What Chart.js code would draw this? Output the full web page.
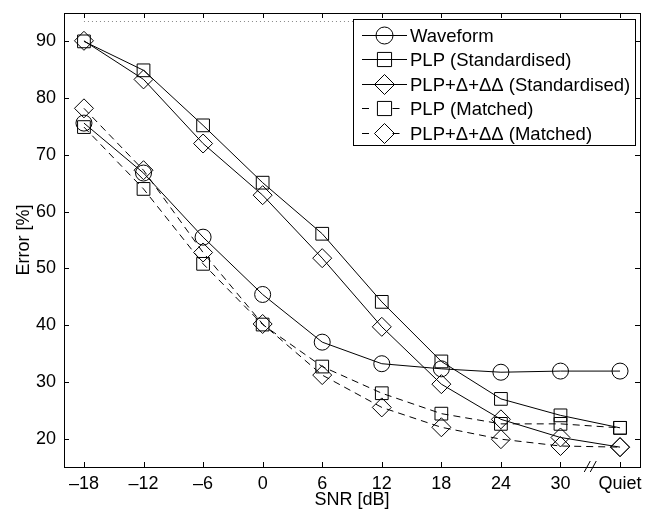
<!DOCTYPE html>
<html>
<head>
<meta charset="utf-8">
<script src="https://cdn.jsdelivr.net/npm/chart.js@4/dist/chart.umd.min.js"></script>
<style>
  html, body { margin: 0; padding: 0; background: #fff; }
</style>
</head>
<body>
<canvas id="errChart" width="658" height="511"></canvas>
<script>
// x positions are evenly spaced slots, "Quiet" sits after a break
const snrLabels = ['\u201318', '\u201312', '\u20136', '0', '6', '12', '18', '24', '30', 'Quiet'];
const snrPos = [0, 1, 2, 3, 4, 5, 6, 7, 8, 9];
const errorTicks = [20, 30, 40, 50, 60, 70, 80, 90];

const waveform = [75.6, 66.8, 55.5, 45.4, 37.0, 33.2, 32.3, 31.7, 31.9, 31.9];
const plpStd = [90.0, 84.9, 75.2, 65.1, 56.1, 44.1, 33.6, 27.0, 24.1, 21.9];
const plpDeltaStd = [90.1, 83.3, 72.0, 62.9, 51.8, 39.7, 29.6, 23.4, 20.2, 18.5];
const plpMatched = [74.9, 64.0, 50.8, 40.1, 32.7, 28.0, 24.4, 22.6, 22.6, 21.9];
const plpDeltaMatched = [78.2, 67.3, 52.8, 40.2, 31.2, 25.5, 22.0, 19.9, 18.7, 18.5];
const chanceLevel = [93.5, 93.5];
const chancePos = [0, 9];

const FONT = 'Liberation Sans, Arial, Helvetica, sans-serif';
const FSIZE = 18;

const toPoints = (vals, xs) => vals.map((v, i) => ({ x: xs[i], y: v }));

const series = [
  { label: 'Waveform', data: waveform, style: 'circle', r: 8, lr: 8.5, dash: [] },
  { label: 'PLP (Standardised)', data: plpStd, style: 'rect', r: 9, lr: 10, dash: [] },
  { label: 'PLP+\u0394+\u0394\u0394 (Standardised)', data: plpDeltaStd, style: 'rectRot', r: 9.5, lr: 10, dash: [] },
  { label: 'PLP (Matched)', data: plpMatched, style: 'rect', r: 9, lr: 10, dash: [7, 5] },
  { label: 'PLP+\u0394+\u0394\u0394 (Matched)', data: plpDeltaMatched, style: 'rectRot', r: 9.5, lr: 10, dash: [7, 5] },
];

const datasets = series.map(s => ({
  label: s.label,
  data: toPoints(s.data, snrPos),
  borderColor: '#000',
  borderWidth: 1,
  borderDash: s.dash,
  pointStyle: s.style,
  pointRadius: s.r,
  pointBorderWidth: 1,
  pointBorderColor: '#000',
  pointBackgroundColor: 'rgba(0,0,0,0)',
  tension: 0,
  fill: false,
}));

datasets.push({
  label: 'chance',
  data: toPoints(chanceLevel, chancePos),
  borderColor: '#888',
  borderWidth: 1,
  borderDash: [1, 3],
  pointRadius: 0,
  fill: false,
});

// simple marker drawing for the legend
function marker(ctx, style, r, x, y) {
  ctx.beginPath();
  if (style === 'circle') {
    ctx.arc(x, y, r, 0, Math.PI * 2);
  } else if (style === 'rect') {
    const h = r * Math.SQRT1_2;
    ctx.rect(x - h, y - h, 2 * h, 2 * h);
  } else {
    ctx.moveTo(x, y - r);
    ctx.lineTo(x + r, y);
    ctx.lineTo(x, y + r);
    ctx.lineTo(x - r, y);
    ctx.closePath();
  }
  ctx.stroke();
}

const boxPlugin = {
  id: 'boxPlugin',
  afterDraw(chart) {
    const { ctx, chartArea: a, scales } = chart;
    const xs = scales.x, ys = scales.y;
    ctx.save();
    ctx.strokeStyle = '#000';
    ctx.lineWidth = 1;
    ctx.setLineDash([]);

    // frame
    ctx.strokeRect(Math.round(a.left) + 0.5, Math.round(a.top) + 0.5,
      Math.round(a.right - a.left), Math.round(a.bottom - a.top));

    // inward ticks on all four sides
    const tl = 5;
    ctx.beginPath();
    snrPos.forEach(v => {
      const px = Math.round(xs.getPixelForValue(v)) + 0.5;
      ctx.moveTo(px, a.bottom); ctx.lineTo(px, a.bottom - tl);
      ctx.moveTo(px, a.top); ctx.lineTo(px, a.top + tl);
    });
    errorTicks.forEach(v => {
      const py = Math.round(ys.getPixelForValue(v)) + 0.5;
      ctx.moveTo(a.left, py); ctx.lineTo(a.left + tl, py);
      ctx.moveTo(a.right, py); ctx.lineTo(a.right - tl, py);
    });
    ctx.stroke();

    // axis break mark between 30 and Quiet
    const bx = xs.getPixelForValue(8.5);
    ctx.beginPath();
    [-3, 3].forEach(d => {
      ctx.moveTo(bx + d - 3, a.bottom + 5);
      ctx.lineTo(bx + d + 3, a.bottom - 6);
    });
    ctx.stroke();

    // legend
    const lw = 282, lh = 126;
    const lx = a.right - 5 - lw, ly = a.top + 6;
    ctx.fillStyle = '#fff';
    ctx.fillRect(lx, ly, lw, lh);
    ctx.strokeRect(Math.round(lx) + 0.5, Math.round(ly) + 0.5, lw, lh);
    ctx.font = '18.5px ' + FONT;
    ctx.textBaseline = 'middle';
    ctx.textAlign = 'left';
    series.forEach((s, i) => {
      const y = Math.round(ly + 16 + i * 24.4) + 0.5;
      const x0 = lx + 9, x1 = lx + 54, xm = lx + 31.5;
      ctx.strokeStyle = '#000';
      ctx.beginPath();
      if (s.dash.length) {
        ctx.moveTo(x0, y); ctx.lineTo(x0 + 7, y);
        ctx.moveTo(xm + 8, y); ctx.lineTo(xm + 15, y);
      } else {
        ctx.moveTo(x0, y); ctx.lineTo(x1, y);
      }
      ctx.stroke();
      marker(ctx, s.style, s.lr, xm, y);
      ctx.fillStyle = '#000';
      ctx.fillText(s.label, lx + 57, y + 1);
    });
    ctx.restore();
  }
};

new Chart('errChart', {
  type: 'line',
  data: { datasets },
  options: {
    responsive: false,
    animation: false,
    layout: { padding: { top: 13, right: 18, bottom: 0, left: 0 } },
    plugins: {
      legend: { display: false },
      tooltip: { enabled: false },
    },
    scales: {
      x: {
        type: 'linear',
        min: -0.335,
        max: 9.335,
        grid: { display: false, drawTicks: false },
        border: { display: false },
        afterBuildTicks: s => { s.ticks = snrPos.map(v => ({ value: v })); },
        afterFit: s => { s.height = 44; s.paddingLeft = 0; s.paddingRight = 0; },
        ticks: {
          autoSkip: false,
          maxRotation: 0,
          padding: 6,
          color: '#000',
          font: { family: FONT, size: FSIZE },
          callback: v => snrLabels[snrPos.indexOf(v)],
        },
        title: {
          display: true,
          text: 'SNR [dB]',
          color: '#000',
          font: { family: FONT, size: FSIZE },
          padding: { top: 0, bottom: 0 },
        },
      },
      y: {
        min: 15,
        max: 95,
        grid: { display: false, drawTicks: false },
        border: { display: false },
        afterBuildTicks: s => { s.ticks = errorTicks.map(v => ({ value: v })); },
        afterFit: s => { s.width = 64; s.paddingTop = 0; s.paddingBottom = 0; },
        ticks: {
          padding: 8,
          color: '#000',
          font: { family: FONT, size: FSIZE },
        },
        title: {
          display: true,
          text: 'Error [%]',
          color: '#000',
          font: { family: FONT, size: FSIZE },
          padding: { top: 13, bottom: 0 },
        },
      },
    },
  },
  plugins: [boxPlugin],
});
</script>
</body>
</html>
